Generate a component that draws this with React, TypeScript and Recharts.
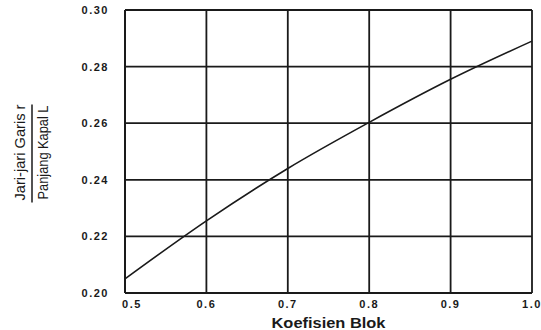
import { LineChart, Line, XAxis, YAxis, CartesianGrid } from "recharts";

// values at each gridline
const blockCoef = [0.5, 0.6, 0.7, 0.8, 0.9, 1.0];
const radiusRatio = [0.205, 0.2255, 0.244, 0.2603, 0.2755, 0.289];
const xTicks = [0.5, 0.6, 0.7, 0.8, 0.9, 1.0];
const yTicks = [0.2, 0.22, 0.24, 0.26, 0.28, 0.3];

const data = blockCoef.map((k, i) => ({ k, r: radiusRatio[i] }));

const FONT = '"Liberation Sans", Arial, sans-serif';
const INK = "#1a1a1a";

function XTick({ x, y, payload, index }: any) {
  // first label sits a bit right of the axis corner in the original
  const shift = index === 0 ? 7 : 0;
  return (
    <text x={x + shift} y={y} dy={15} textAnchor="middle" fontFamily={FONT} fontSize={11}
      fontWeight="bold" letterSpacing={1.5} fill={INK}>
      {Number(payload.value).toFixed(1)}
    </text>
  );
}

function YTick({ x, y, payload }: any) {
  return (
    <text x={x - 16} y={y} dy={4} textAnchor="end" fontFamily={FONT} fontSize={11}
      fontWeight="bold" letterSpacing={1.5} fill={INK}>
      {Number(payload.value).toFixed(2)}
    </text>
  );
}

function YLabel(props: any) {
  const vb = props.viewBox || { x: 0, y: 10, width: 125, height: 283 };
  const cy = vb.y + vb.height / 2 + 1;
  return (
    <g fontFamily={FONT} fontSize={15.5} fill={INK}>
      <text transform={`translate(25, ${cy}) rotate(-90)`} textAnchor="middle"
        textLength={96} lengthAdjust="spacingAndGlyphs">
        Jari-jari Garis r
      </text>
      <line x1={32} x2={32} y1={cy - 48} y2={cy + 50} stroke={INK} strokeWidth={1.5} />
      <text transform={`translate(48, ${cy}) rotate(-90)`} textAnchor="middle"
        textLength={94} lengthAdjust="spacingAndGlyphs">
        Panjang Kapal L
      </text>
    </g>
  );
}

function XLabel(props: any) {
  const vb = props.viewBox || { x: 125, y: 293, width: 407, height: 37 };
  return (
    <text x={vb.x + vb.width / 2} y={vb.y + 35} textAnchor="middle" fontFamily={FONT}
      fontSize={15.5} fontWeight="bold" fill={INK} textLength={114} lengthAdjust="spacingAndGlyphs">
      Koefisien Blok
    </text>
  );
}

export default function App() {
  return (
    <div style={{ position: "absolute", left: 0, top: 0, width: 541, height: 330, background: "#fff" }}>
      <LineChart width={541} height={330} data={data} margin={{ top: 10, right: 9, bottom: 0, left: 0 }}>
        <CartesianGrid stroke={INK} strokeWidth={1.8} />
        <XAxis dataKey="k" type="number" domain={[0.5, 1]} ticks={xTicks} height={37}
          tickSize={0} tickMargin={0} tick={<XTick />} axisLine={{ stroke: INK, strokeWidth: 2 }}
          tickLine={false} label={{ content: <XLabel /> } as any} />
        <YAxis type="number" domain={[0.2, 0.3]} ticks={yTicks} width={125}
          tickSize={0} tickMargin={0} tick={<YTick />} axisLine={{ stroke: INK, strokeWidth: 2 }}
          tickLine={false} label={{ content: <YLabel /> } as any} />
        <Line dataKey="r" type="monotone" stroke={INK} strokeWidth={1.6} dot={false}
          isAnimationActive={false} />
      </LineChart>
    </div>
  );
}
